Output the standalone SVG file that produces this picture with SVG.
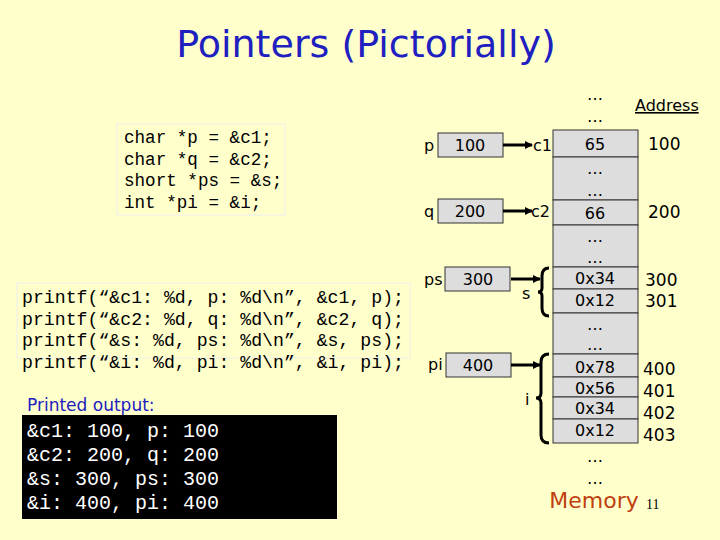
<svg xmlns="http://www.w3.org/2000/svg" width="720" height="540" viewBox="0 0 720 540">
<defs>
<marker id="ah" markerWidth="8" markerHeight="8" refX="7" refY="4" orient="auto" markerUnits="userSpaceOnUse"><path d="M0,0 L8,4 L0,8 z" fill="#000"/></marker>
<style>
.mono{font-family:"Liberation Mono",monospace;font-size:17.6px;fill:#000}
.pf{font-size:18.2px}
.sans{font-family:"DejaVu Sans","Liberation Sans",sans-serif;font-size:16px;fill:#000}
.box{fill:#ddd;stroke:#333;stroke-width:1}
.cell{fill:#ddd;stroke:#333;stroke-width:1}
.mid{text-anchor:middle}
.arr{stroke:#000;stroke-width:3;fill:none}
.br{stroke:#000;stroke-width:3;fill:none}
</style>
</defs>
<rect width="720" height="540" fill="#ffffcc"/>
<text x="366" y="57" class="sans mid" style="font-size:38px;fill:#2020c0">Pointers (Pictorially)</text>
<g id="code">
<rect x="117" y="124" width="168" height="91" fill="#ffffcc" stroke="#eee"/>
<text class="mono" x="124" y="143">char *p = &amp;c1;</text>
<text class="mono" x="124" y="165">char *q = &amp;c2;</text>
<text class="mono" x="124" y="186">short *ps = &amp;s;</text>
<text class="mono" x="124" y="208">int *pi = &amp;i;</text>
</g>
<g id="printf">
<rect x="17" y="283" width="393" height="75" fill="#ffffcc" stroke="#eee"/>
<text class="mono pf" x="22" y="303">printf(“&amp;c1: %d, p: %d\n”, &amp;c1, p);</text>
<text class="mono pf" x="22" y="325">printf(“&amp;c2: %d, q: %d\n”, &amp;c2, q);</text>
<text class="mono pf" x="22" y="346">printf(“&amp;s: %d, ps: %d\n”, &amp;s, ps);</text>
<text class="mono pf" x="22" y="368">printf(“&amp;i: %d, pi: %d\n”, &amp;i, pi);</text>
</g>
<g id="output">
<text class="sans" x="27" y="411" style="fill:#2020c0;font-size:17px">Printed output:</text>
<rect x="22" y="415" width="315" height="104" fill="#000"/>
<text class="mono" x="27" y="437" style="fill:#fff;font-size:20px">&amp;c1: 100, p: 100</text>
<text class="mono" x="27" y="461" style="fill:#fff;font-size:20px">&amp;c2: 200, q: 200</text>
<text class="mono" x="27" y="485" style="fill:#fff;font-size:20px">&amp;s: 300, ps: 300</text>
<text class="mono" x="27" y="509" style="fill:#fff;font-size:20px">&amp;i: 400, pi: 400</text>
</g>
<g id="memory">
<text class="sans mid" x="595" y="100">…</text>
<text class="sans mid" x="595" y="122">…</text>
<rect class="cell" x="553" y="130" width="85" height="27"/><text class="sans mid" x="595" y="150">65</text>
<rect class="cell" x="553" y="157" width="85" height="43"/><text class="sans mid" x="595" y="174">…</text><text class="sans mid" x="595" y="196">…</text>
<rect class="cell" x="553" y="200" width="85" height="25"/><text class="sans mid" x="595" y="219">66</text>
<rect class="cell" x="553" y="225" width="85" height="42"/><text class="sans mid" x="595" y="242">…</text><text class="sans mid" x="595" y="263">…</text>
<rect class="cell" x="553" y="267" width="85" height="22"/><text class="sans mid" x="595" y="284">0x34</text>
<rect class="cell" x="553" y="289" width="85" height="24"/><text class="sans mid" x="595" y="306">0x12</text>
<rect class="cell" x="553" y="313" width="85" height="41"/><text class="sans mid" x="595" y="330">…</text><text class="sans mid" x="595" y="350">…</text>
<rect class="cell" x="553" y="354" width="85" height="23"/><text class="sans mid" x="595" y="373">0x78</text>
<rect class="cell" x="553" y="377" width="85" height="20"/><text class="sans mid" x="595" y="394">0x56</text>
<rect class="cell" x="553" y="397" width="85" height="22"/><text class="sans mid" x="595" y="414">0x34</text>
<rect class="cell" x="553" y="419" width="85" height="24"/><text class="sans mid" x="595" y="436">0x12</text>
<text class="sans mid" x="595" y="462">…</text>
<text class="sans mid" x="595" y="484">…</text>
<text class="sans mid" x="594" y="508" style="fill:#c04010;font-size:22px">Memory</text>
<text x="646" y="509" style="font-family:'Liberation Serif',serif;font-size:14px">11</text>
</g>
<g id="addresses">
<text class="sans" x="635" y="111" style="text-decoration:underline">Address</text>
<text class="sans" x="648" y="150" style="font-size:17px">100</text>
<text class="sans" x="648" y="218" style="font-size:17px">200</text>
<text class="sans" x="645" y="286" style="font-size:17px">300</text>
<text class="sans" x="645" y="307" style="font-size:17px">301</text>
<text class="sans" x="643" y="375" style="font-size:17px">400</text>
<text class="sans" x="643" y="397" style="font-size:17px">401</text>
<text class="sans" x="643" y="419" style="font-size:17px">402</text>
<text class="sans" x="643" y="441" style="font-size:17px">403</text>
</g>
<g id="p"><text class="sans" x="424" y="151">p</text><rect class="box" x="438" y="133" width="65" height="24"/><text class="sans mid" x="470" y="151">100</text></g>
<g id="q"><text class="sans" x="424" y="217">q</text><rect class="box" x="438" y="199" width="65" height="24"/><text class="sans mid" x="470" y="217">200</text></g>
<g id="ps"><text class="sans" x="424" y="285">ps</text><rect class="box" x="445" y="267" width="65" height="24"/><text class="sans mid" x="478" y="285">300</text></g>
<g id="pi"><text class="sans" x="428" y="370">pi</text><rect class="box" x="446" y="353" width="65" height="24"/><text class="sans mid" x="478" y="371">400</text></g>
<g id="labels">
<text class="sans" x="533" y="151">c1</text>
<text class="sans" x="531" y="217">c2</text>
<text class="sans" x="522" y="299">s</text>
<text class="sans" x="525" y="405">i</text>
</g>
<g id="connectors">
<line class="arr" x1="503" y1="145" x2="532" y2="145" marker-end="url(#ah)"/>
<line class="arr" x1="503" y1="211" x2="532" y2="211" marker-end="url(#ah)"/>
<line class="arr" x1="511" y1="279" x2="540" y2="279" marker-end="url(#ah)"/>
<line class="arr" x1="511" y1="365" x2="540" y2="365" marker-end="url(#ah)"/>
<path class="br" d="M549,268 Q542,268 542,276 L542,288 Q542,292 538,292 Q542,292 542,296 L542,308 Q542,316 549,316"/>
<path class="br" d="M549,354 Q541,354 541,362 L541,393 Q541,398 536,398 Q541,398 541,403 L541,435 Q541,443 549,443"/>
</g>
</svg>
